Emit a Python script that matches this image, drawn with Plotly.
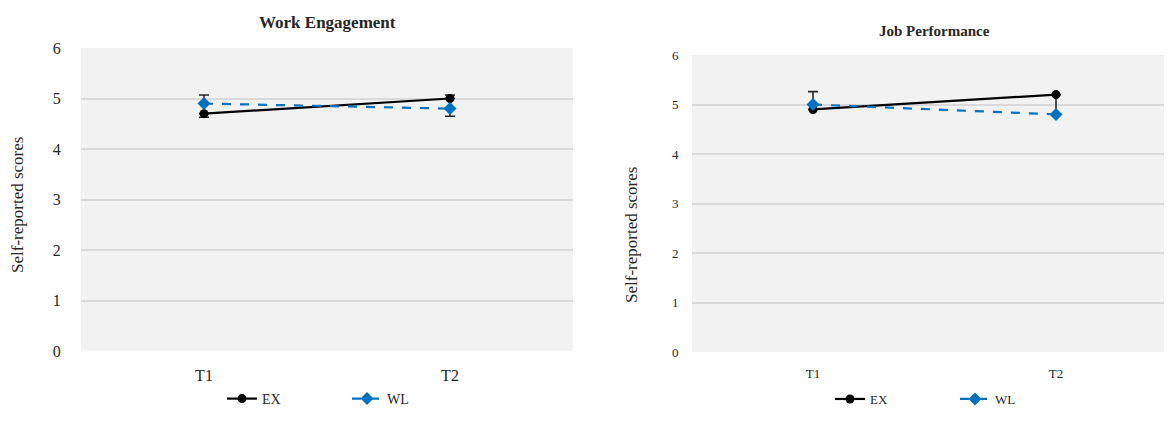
import plotly.graph_objects as go

times = ["T1", "T2"]

# Work Engagement
we_ex = [4.7, 5.0]
we_ex_plus = [0.0, 0.07]
we_ex_minus = [0.07, 0.0]
we_wl = [4.9, 4.8]
we_wl_plus = [0.17, 0.0]
we_wl_minus = [0.0, 0.15]

# Job Performance
jp_ex = [4.9, 5.2]
jp_ex_plus = [0.0, 0.0]
jp_ex_minus = [0.0, 0.4]
jp_wl = [5.0, 4.8]
jp_wl_plus = [0.26, 0.0]
jp_wl_minus = [0.0, 0.0]

y_ticks = [0, 1, 2, 3, 4, 5, 6]

FONT = "Liberation Serif"
BLACK = "#000000"
BLUE = "#0070C0"
ERR = "#262626"
TXT = "#262626"

fig = go.Figure()


def add_pair(ex, exp, exm, wl, wlp, wlm, xa, ya, legend):
    fig.add_trace(go.Scatter(
        x=times, y=ex, name="EX", mode="lines+markers",
        line=dict(color=BLACK, width=2.2),
        marker=dict(symbol="circle", size=9, color=BLACK),
        error_y=dict(type="data", symmetric=False, array=exp, arrayminus=exm,
                     color=ERR, thickness=1.6, width=5),
        xaxis=xa, yaxis=ya, legend=legend))
    fig.add_trace(go.Scatter(
        x=times, y=wl, name="WL", mode="lines+markers",
        line=dict(color=BLUE, width=2.2, dash="dash"),
        marker=dict(symbol="diamond", size=10, color=BLUE),
        error_y=dict(type="data", symmetric=False, array=wlp, arrayminus=wlm,
                     color=ERR, thickness=1.6, width=5),
        xaxis=xa, yaxis=ya, legend=legend))


add_pair(we_ex, we_ex_plus, we_ex_minus, we_wl, we_wl_plus, we_wl_minus, "x", "y", "legend")
add_pair(jp_ex, jp_ex_plus, jp_ex_minus, jp_wl, jp_wl_plus, jp_wl_minus, "x2", "y2", "legend2")

OFF = 8  # page body margin
W, H = 1172 - OFF, 421 - OFF

def px_x(p):
    return (p - OFF) / W

def px_y(p):
    return 1 - (p - OFF) / H

grid = dict(showgrid=True, gridcolor="#d9d9d9", gridwidth=1.5, zeroline=False,
            showline=False, automargin=False)

fig.update_layout(
    width=W, height=H,
    margin=dict(l=0, r=0, t=0, b=0, pad=0, autoexpand=False),
    paper_bgcolor="white",
    plot_bgcolor="#f2f2f2",
    font=dict(family=FONT, color=TXT),
    xaxis=dict(domain=[px_x(81), px_x(573)], type="category", range=[-0.5, 1.5],
               showgrid=False, zeroline=False, showline=False, automargin=False,
               tickfont=dict(size=16, family=FONT, color=TXT),
               ticks="outside", ticklen=10, tickcolor="rgba(0,0,0,0)"),
    yaxis=dict(domain=[px_y(351), px_y(48)], range=[0, 6], tickvals=y_ticks,
               tickfont=dict(size=16, family=FONT, color=TXT),
               ticks="outside", ticklen=16, tickcolor="rgba(0,0,0,0)", **grid),
    xaxis2=dict(domain=[px_x(692), 1.0], type="category",
                range=[-(813 - 692) / 243, 1 + (1172 - 1056) / 243],
                anchor="y2", automargin=False,
                showgrid=False, zeroline=False, showline=False,
                tickfont=dict(size=13, family=FONT, color=TXT),
                ticks="outside", ticklen=9, tickcolor="rgba(0,0,0,0)"),
    yaxis2=dict(domain=[px_y(352), px_y(55)], range=[0, 6], tickvals=y_ticks,
                anchor="x2",
                tickfont=dict(size=13, family=FONT, color=TXT),
                ticks="outside", ticklen=10, tickcolor="rgba(0,0,0,0)", **grid),
    legend=dict(orientation="h", x=px_x(347), y=px_y(399), xanchor="center",
                yanchor="middle", font=dict(size=14, family=FONT, color=TXT),
                bgcolor="rgba(0,0,0,0)", entrywidth=80),
    legend2=dict(orientation="h", x=px_x(955), y=px_y(399), xanchor="center",
                 yanchor="middle", font=dict(size=13, family=FONT, color=TXT),
                 bgcolor="rgba(0,0,0,0)", entrywidth=80),
    annotations=[
        dict(text="<b>Work Engagement</b>", x=px_x(327), y=px_y(22), xref="paper",
             yref="paper", showarrow=False, font=dict(size=17, family=FONT, color=TXT),
             xanchor="center", yanchor="middle"),
        dict(text="<b>Job Performance</b>", x=px_x(935), y=px_y(31), xref="paper",
             yref="paper", showarrow=False, font=dict(size=15, family=FONT, color=TXT),
             xanchor="center", yanchor="middle"),
        dict(text="Self-reported scores", x=px_x(17), y=px_y(205), xref="paper",
             yref="paper", showarrow=False, textangle=-90,
             font=dict(size=17, family=FONT, color=TXT),
             xanchor="center", yanchor="middle"),
        dict(text="Self-reported scores", x=px_x(632), y=px_y(235), xref="paper",
             yref="paper", showarrow=False, textangle=-90,
             font=dict(size=17, family=FONT, color=TXT),
             xanchor="center", yanchor="middle"),
    ],
)

fig.write_html("out.html")
